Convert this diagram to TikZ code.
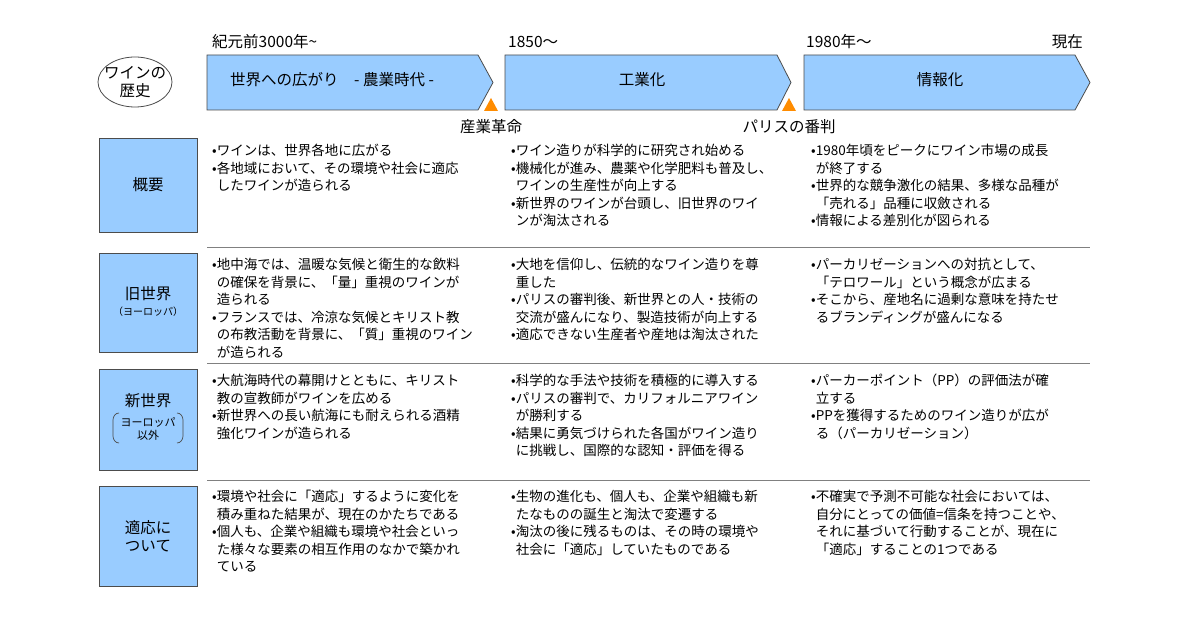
\documentclass[tikz,border=0pt]{standalone}
\usepackage{fontspec}
\setmainfont{Noto Sans CJK JP}
\definecolor{boxblue}{RGB}{153,204,255}
\begin{document}
\begin{tikzpicture}[x=1pt,y=-1pt,
  arr/.style={draw=black!70,fill=boxblue,line width=0.8pt},
  lab/.style={draw=black!70,fill=boxblue,line width=0.8pt},
  txt/.style={anchor=north west,inner sep=0pt,align=left,font=\fontsize{13.5}{17.5}\selectfont},
  hd/.style={font=\fontsize{14}{17}\selectfont,inner sep=0pt},
  big/.style={font=\fontsize{15.5}{18}\selectfont,inner sep=0pt},
  tri/.style={fill=orange!90!yellow,draw=none}]
\useasboundingbox (0,0) rectangle (1200,628);
\fill[white] (0,0) rectangle (1200,628);
\newcommand{\ind}{\phantom{•}}
% ellipse
\draw[black!70,line width=0.8pt] (135,82) ellipse (37 and 25);
\node[big,align=center] (hist) at (135,82) {ワインの\\歴史};
% arrows
\draw[arr] (207,55) -- (478,55) -- (493,82.5) -- (478,110) -- (207,110) -- cycle;
\draw[arr] (505,55) -- (777,55) -- (791,82.5) -- (777,110) -- (505,110) -- cycle;
\draw[arr] (804,55) -- (1075,55) -- (1090,82.5) -- (1075,110) -- (804,110) -- cycle;
\node[big,anchor=west] (a1) at (230,80) {世界への広がり\quad - 農業時代 -};
\node[big] (a2) at (642,80) {工業化};
\node[big] (a3) at (940,80) {情報化};
\node[big,anchor=west] (t1) at (212,42) {紀元前3000年\char"007E};
\node[big,anchor=west] (t2) at (508,42) {1850～};
\node[big,anchor=west] (t3) at (806,42) {1980年～};
\node[big,anchor=east] (t4) at (1083,42) {現在};
\fill[tri] (484,111) -- (498,111) -- (491,98) -- cycle;
\fill[tri] (782,111) -- (796,111) -- (789,98) -- cycle;
\node[big] (e1) at (491,127) {産業革命};
\node[big] (e2) at (789,127) {パリスの番判};
% left labels
\draw[lab] (99,138) rectangle (197,232);
\draw[lab] (99,253) rectangle (197,352);
\draw[lab] (99,369) rectangle (197,470);
\draw[lab] (99,486) rectangle (197,586);
\node[big] (l1) at (148,185) {概要};
\node[big,align=center] (l2) at (148,302) {旧世界\\[-2pt]{\fontsize{10}{12}\selectfont（ヨーロッパ）}};
\node[big] (l3) at (148,401) {新世界};
\node[font=\fontsize{11}{13}\selectfont,align=center,inner sep=0pt] (l3b) at (148,429) {ヨーロッパ\\以外};
\draw[black!70,line width=0.7pt] (119,413) to[out=180,in=90] (113,420) -- (113,436) to[out=270,in=180] (119,443);
\draw[black!70,line width=0.7pt] (177,413) to[out=0,in=90] (183,420) -- (183,436) to[out=270,in=0] (177,443);
\node[big,align=center] (l4) at (148,536) {適応に\\ついて};
% separators
\foreach \yy in {247,363,480} \draw[black!50,line width=0.8pt] (207,\yy) -- (1090,\yy);
% row 1
\node[txt] (c11) at (212,144) {•ワインは、世界各地に広がる\\•各地域において、その環境や社会に適応\\\ind したワインが造られる};
\node[txt] (c12) at (511,144) {•ワイン造りが科学的に研究され始める\\•機械化が進み、農薬や化学肥料も普及し、\\\ind ワインの生産性が向上する\\•新世界のワインが台頭し、旧世界のワイ\\\ind ンが淘汰される};
\node[txt] (c13) at (811,144) {•1980年頃をピークにワイン市場の成長\\\ind が終了する\\•世界的な競争激化の結果、多様な品種が\\\ind 「売れる」品種に収斂される\\•情報による差別化が図られる};
% row 2
\node[txt] (c21) at (212,258) {•地中海では、温暖な気候と衛生的な飲料\\\ind の確保を背景に、「量」重視のワインが\\\ind 造られる\\•フランスでは、冷涼な気候とキリスト教\\\ind の布教活動を背景に、「質」重視のワイン\\\ind が造られる};
\node[txt] (c22) at (511,258) {•大地を信仰し、伝統的なワイン造りを尊\\\ind 重した\\•パリスの審判後、新世界との人・技術の\\\ind 交流が盛んになり、製造技術が向上する\\•適応できない生産者や産地は淘汰された};
\node[txt] (c23) at (811,258) {•パーカリゼーションへの対抗として、\\\ind 「テロワール」という概念が広まる\\•そこから、産地名に過剰な意味を持たせ\\\ind るブランディングが盛んになる};
% row 3
\node[txt] (c31) at (212,374) {•大航海時代の幕開けとともに、キリスト\\\ind 教の宣教師がワインを広める\\•新世界への長い航海にも耐えられる酒精\\\ind 強化ワインが造られる};
\node[txt] (c32) at (511,374) {•科学的な手法や技術を積極的に導入する\\•パリスの審判で、カリフォルニアワイン\\\ind が勝利する\\•結果に勇気づけられた各国がワイン造り\\\ind に挑戦し、国際的な認知・評価を得る};
\node[txt] (c33) at (811,374) {•パーカーポイント（PP）の評価法が確\\\ind 立する\\•PPを獲得するためのワイン造りが広が\\\ind る（パーカリゼーション）};
% row 4
\node[txt] (c41) at (212,490) {•環境や社会に「適応」するように変化を\\\ind 積み重ねた結果が、現在のかたちである\\•個人も、企業や組織も環境や社会といっ\\\ind た様々な要素の相互作用のなかで築かれ\\\ind ている};
\node[txt] (c42) at (511,490) {•生物の進化も、個人も、企業や組織も新\\\ind たなものの誕生と淘汰で変遷する\\•淘汰の後に残るものは、その時の環境や\\\ind 社会に「適応」していたものである};
\node[txt] (c43) at (811,490) {•不確実で予測不可能な社会においては、\\\ind 自分にとっての価値=信条を持つことや、\\\ind それに基づいて行動することが、現在に\\\ind 「適応」することの1つである};
\end{tikzpicture}
\end{document}
